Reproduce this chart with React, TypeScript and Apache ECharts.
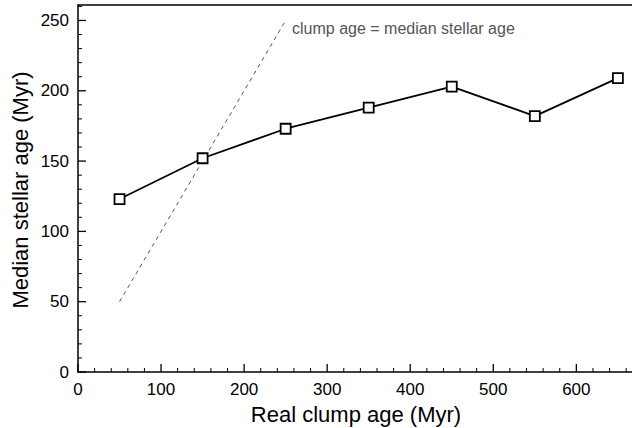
import React, { useEffect, useRef } from "react";
import * as echarts from "echarts";

const clumpAge = [50, 150, 250, 350, 450, 550, 650];
const medianStellarAge = [123, 152, 173, 188, 203, 182, 209];
const oneToOneX = [50, 250];
const oneToOneY = [50, 250];
const xMajorTicks = [0, 100, 200, 300, 400, 500, 600];
const yMajorTicks = [0, 50, 100, 150, 200, 250];
const xTitle = "Real clump age (Myr)";
const yTitle = "Median stellar age (Myr)";
const annotation = "clump age = median stellar age";

const FONT = "'Liberation Sans', Arial, Helvetica, sans-serif";

function buildTicks() {
  const out: any[] = [];
  for (let v = 0; v <= 660; v += 20) out.push([0, v, xMajorTicks.includes(v) ? 1 : 0]);
  for (let v = 0; v <= 260; v += 10) out.push([1, v, yMajorTicks.includes(v) ? 1 : 0]);
  return out;
}

export default function App() {
  const ref = useRef<HTMLDivElement>(null);
  useEffect(() => {
    if (!ref.current) return;
    const chart = echarts.init(ref.current, null, { renderer: "svg" });
    const axisLine = { show: true, onZero: false, lineStyle: { color: "#000", width: 1.5 } };
    chart.setOption({
      animation: false,
      backgroundColor: "#fff",
      grid: {
        left: 78,
        top: 5,
        right: 0,
        bottom: 56,
        show: false,
        containLabel: false,
        outerBoundsMode: "none",
      },
      xAxis: [
        {
          type: "value",
          min: 0,
          max: 667,
          interval: 100,
          axisLine,
          axisTick: { show: false },
          splitLine: { show: false },
          axisLabel: { color: "#000", fontSize: 17, fontFamily: FONT, margin: 9, showMaxLabel: false },
        },
        {
          type: "value",
          position: "top",
          min: 0,
          max: 667,
          axisLine,
          axisTick: { show: false },
          axisLabel: { show: false },
          splitLine: { show: false },
        },
      ],
      yAxis: {
        type: "value",
        min: 0,
        max: 261,
        interval: 50,
        axisLine,
        axisTick: { show: false },
        splitLine: { show: false },
        axisLabel: { color: "#000", fontSize: 17, fontFamily: FONT, margin: 9, showMaxLabel: false },
      },
      graphic: [
        {
          type: "text",
          x: 356,
          y: 414,
          style: {
            text: xTitle,
            fontSize: 22,
            fontFamily: FONT,
            fill: "#000",
            align: "center",
            verticalAlign: "middle",
          },
        },
        {
          type: "text",
          x: 20,
          y: 190,
          rotation: Math.PI / 2,
          style: {
            text: yTitle,
            fontSize: 22,
            fontFamily: FONT,
            fill: "#000",
            align: "center",
            verticalAlign: "middle",
          },
        },
        {
          type: "text",
          x: 292,
          y: 28,
          style: {
            text: annotation,
            fontSize: 16,
            fontFamily: FONT,
            fill: "#555",
            verticalAlign: "middle",
          },
        },
      ],
      series: [
        {
          type: "custom",
          data: buildTicks(),
          clip: false,
          silent: true,
          z: 3,
          renderItem: (params: any, api: any) => {
            const axis = api.value(0);
            const v = api.value(1);
            const major = api.value(2) === 1;
            const len = major ? 8 : 4;
            if (axis === 0) {
              const p = api.coord([v, 0]);
              return {
                type: "line",
                shape: { x1: p[0], y1: p[1], x2: p[0], y2: p[1] - len },
                style: { stroke: "#000", lineWidth: major ? 1.3 : 1 },
              };
            }
            const p = api.coord([0, v]);
            return {
              type: "line",
              shape: { x1: p[0], y1: p[1], x2: p[0] + len, y2: p[1] },
              style: { stroke: "#000", lineWidth: major ? 1.3 : 1 },
            };
          },
        },
        {
          type: "line",
          data: oneToOneX.map((x, i) => [x, oneToOneY[i]]),
          symbol: "none",
          lineStyle: { color: "#555", width: 1, type: [4, 4] },
          z: 1,
        },
        {
          type: "line",
          data: clumpAge.map((x, i) => [x, medianStellarAge[i]]),
          symbol: "rect",
          symbolSize: 10,
          itemStyle: { color: "#fff", borderColor: "#000", borderWidth: 1.8 },
          lineStyle: { color: "#000", width: 1.8 },
          z: 2,
        },
      ],
    });
    return () => chart.dispose();
  }, []);
  return <div ref={ref} style={{ width: 632, height: 428, position: "absolute", left: 0, top: 0 }} />;
}
